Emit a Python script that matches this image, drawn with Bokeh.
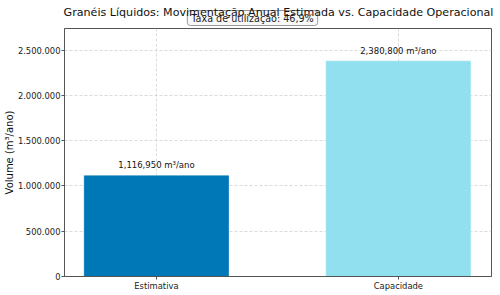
from bokeh.plotting import figure
from bokeh.models import Range1d, FixedTicker, Label, ColumnDataSource
from bokeh.core.properties import value
from bokeh.embed import file_html
from bokeh.resources import INLINE

categories = ["Estimativa", "Capacidade"]
volumes = [1116950, 2380800]
colors = ["#0077B6", "#90E0EF"]
y_ticks = [0, 500000, 1000000, 1500000, 2000000, 2500000]
y_tick_labels = ["0", "500.000", "1.000.000", "1.500.000", "2.000.000", "2.500.000"]
title_text = "Granéis Líquidos: Movimentação Anual Estimada vs. Capacidade Operacional"
rate_text = "Taxa de utilização: 46,9%"
y_label = "Volume (m³/ano)"

FONT = "DejaVu Sans"
xs = list(range(len(categories)))

p = figure(width=500, height=295, output_backend="svg", toolbar_location=None,
           x_range=Range1d(-0.38, 1.385), y_range=Range1d(0, max(volumes) * 1.15))
p.min_border_left = 64
p.min_border_right = 9
p.min_border_top = 28
p.min_border_bottom = 19
p.title.visible = False
p.background_fill_color = "white"
p.border_fill_color = "white"
p.outline_line_color = "#555555"
p.outline_line_width = 1

src = ColumnDataSource(dict(
    x=xs, top=volumes, color=colors,
    label=[f"{v:,.0f} m³/ano" for v in volumes],
))
p.vbar(x="x", top="top", width=0.6, bottom=0, color="color", source=src,
       line_color="white", line_alpha=0.3, line_width=1)
p.text(x="x", y="top", text="label", source=src, text_align="center",
       text_baseline="middle", y_offset=-10, text_font=value(FONT),
       text_font_size="8.5px", text_color="#111111")

# axes
p.xaxis.ticker = FixedTicker(ticks=xs)
p.xaxis.major_label_overrides = {i: c for i, c in enumerate(categories)}
p.yaxis.ticker = FixedTicker(ticks=y_ticks)
p.yaxis.major_label_overrides = {t: l for t, l in zip(y_ticks, y_tick_labels)}
for ax in (p.xaxis, p.yaxis):
    ax.major_label_text_font = FONT
    ax.major_label_text_font_size = "8.4px"
    ax.major_label_text_color = "#222222"
    ax.axis_line_color = "#555555"
    ax.major_tick_line_color = "#555555"
    ax.major_tick_out = 3
    ax.major_tick_in = 0
    ax.minor_tick_line_color = None
    ax.major_label_standoff = 1
p.yaxis.axis_label = y_label
p.yaxis.axis_label_text_font = FONT
p.yaxis.axis_label_text_font_style = "normal"
p.yaxis.axis_label_text_font_size = "10px"
p.yaxis.axis_label_text_color = "#111111"
p.yaxis.axis_label_standoff = 0

p.xgrid.grid_line_color = "#d0d0d0"
p.ygrid.grid_line_color = "#d0d0d0"
p.xgrid.grid_line_dash = "3 2"
p.ygrid.grid_line_dash = "3 2"
p.xgrid.grid_line_width = 0.8
p.ygrid.grid_line_width = 0.8

# utilisation box (above panel, overlapping the title)
box = Label(x=188, y=10.5, x_units="screen", y_units="screen", text=rate_text,
            text_align="center", text_baseline="middle", text_font=FONT,
            text_font_size="9.6px", text_color="#222222",
            background_fill_color="#f8f8f8", background_fill_alpha=0.85,
            border_line_color="#999999", border_line_width=1, border_radius=3,
            padding=dict(left=4, right=4, top=2, bottom=2))
p.add_layout(box, "above")

title = Label(x=214, y=1.5, x_units="screen", y_units="screen", text=title_text,
              text_align="center", text_baseline="alphabetic", text_font=FONT,
              text_font_size="11.1px", text_color="#111111")
p.add_layout(title, "above")

open("out.html", "w").write(file_html(p, INLINE))
